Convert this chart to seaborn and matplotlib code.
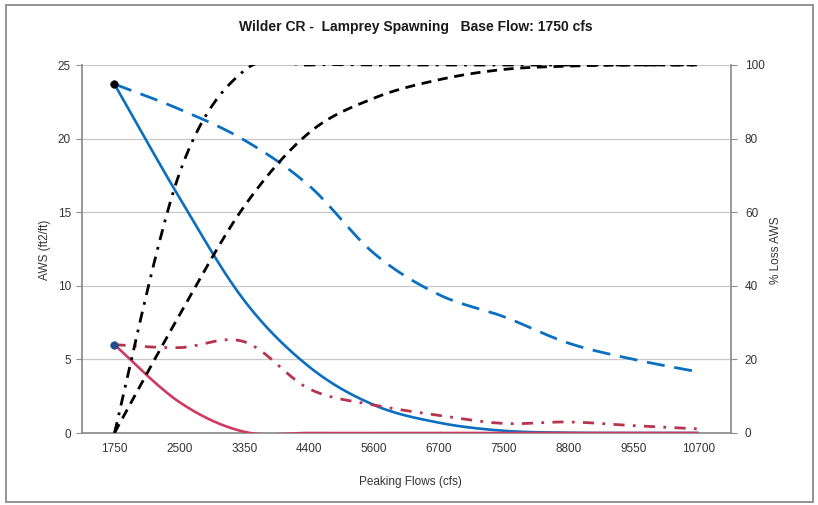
import numpy as np
import pandas as pd
import matplotlib
matplotlib.use("Agg")
import matplotlib.pyplot as plt
from matplotlib.patches import Rectangle
import seaborn as sns

# ---------------- data ----------------
flows = ["1750", "2500", "3350", "4400", "5600", "6700", "7500", "8800", "9550", "10700"]
aws_solid_blue = [23.7, 16.0, 9.0, 4.5, 1.9, 0.7, 0.15, 0.02, 0.0, 0.0]
aws_dash_blue = [23.7, 22.0, 19.9, 16.8, 12.2, 9.4, 7.9, 6.1, 5.0, 4.15]
aws_solid_red = [6.0, 2.1, 0.08, 0.0, 0.0, 0.0, 0.0, 0.0, 0.0, 0.0]
aws_dashdot_red = [6.0, 5.8, 6.2, 3.0, 1.9, 1.2, 0.65, 0.75, 0.5, 0.28]
loss_dashdot_black = [0.0, 70.5, 98.5, 100.0, 100.0, 100.0, 100.0, 100.0, 100.0, 100.0]
loss_dash_black = [0.0, 32.0, 61.6, 81.6, 91.0, 96.0, 98.8, 99.7, 100.0, 100.0]

# ---------------- style ----------------
sns.set_theme(style="white")
plt.rcParams["font.family"] = ["Liberation Sans", "DejaVu Sans"]
TXT = "#333333"
GRID = "#c8c8c8"
SPINE = "#8c8c8c"


def excel_smooth(xs, ys, n=40):
    """Excel-style smoothed line rendering (cubic Bezier through the points)."""
    P = np.column_stack([xs, ys]).astype(float)
    m = len(P)
    out = []
    for i in range(m - 1):
        p0 = P[i - 1] if i > 0 else P[i]
        p1, p2 = P[i], P[i + 1]
        p3 = P[i + 2] if i + 2 < m else P[i + 1]
        c1 = p1 + (p2 - p0) / 6.0
        c2 = p2 - (p3 - p1) / 6.0
        t = np.linspace(0, 1, n, endpoint=(i == m - 2))[:, None]
        seg = ((1 - t) ** 3) * p1 + 3 * ((1 - t) ** 2) * t * c1 + 3 * (1 - t) * t ** 2 * c2 + t ** 3 * p2
        out.append(seg)
    arr = np.vstack(out)
    return arr[:, 0], arr[:, 1]


fig = plt.figure(figsize=(8.18, 5.05), dpi=100)
fig.patch.set_facecolor("white")
ax = fig.add_axes([82 / 818, 1 - 433 / 505, (731 - 82) / 818, (433 - 65) / 505])
ax2 = ax.twinx()

idx = np.arange(len(flows))


def draw(axis, vals, color, lw, dashes=None, z=3):
    sx, sy = excel_smooth(idx, vals)
    df = pd.DataFrame({"x": sx, "y": sy})
    sns.lineplot(data=df, x="x", y="y", ax=axis, color=color, linewidth=lw,
                 sort=False, estimator=None, zorder=z)
    line = axis.lines[-1]
    if dashes is not None:
        line.set_dashes(dashes)
    line.set_solid_capstyle("butt")
    line.set_dash_capstyle("butt")


# left axis series
draw(ax, aws_dash_blue, "#0b6fc0", 2.0, dashes=(6.5, 3.5))
draw(ax, aws_solid_blue, "#0b6fc0", 1.9)
draw(ax, aws_dashdot_red, "#b8334f", 2.0, dashes=(4, 3, 1, 3))
draw(ax, aws_solid_red, "#cf3a62", 1.9)
sns.scatterplot(x=[0], y=[aws_solid_blue[0]], ax=ax, color="black", s=30, zorder=6, edgecolor="black")
sns.scatterplot(x=[0], y=[aws_solid_red[0]], ax=ax, color="#1f4e8c", s=30, zorder=6, edgecolor="#1f4e8c")

# right axis series
draw(ax2, loss_dashdot_black, "black", 2.0, dashes=(4, 2.6, 1, 2.6))
draw(ax2, loss_dash_black, "black", 2.0, dashes=(3.6, 2.4))

# axes limits / ticks
ax.set_xlim(-0.5, len(flows) - 0.5)
ax.set_ylim(0, 25)
ax2.set_ylim(0, 100)
ax.set_xticks(idx)
ax.set_xticklabels(flows)
ax.set_yticks([0, 5, 10, 15, 20, 25])
ax2.set_yticks([0, 20, 40, 60, 80, 100])

ax.grid(axis="y", color=GRID, linewidth=0.9)
ax.grid(axis="x", visible=False)
ax2.grid(False)
ax.set_axisbelow(True)

for a in (ax, ax2):
    a.set_facecolor("none")
    for s in a.spines.values():
        s.set_visible(False)
ax.spines["left"].set_visible(True)
ax.spines["left"].set_color(SPINE)
ax.spines["bottom"].set_visible(True)
ax.spines["bottom"].set_color(SPINE)
ax2.spines["right"].set_visible(True)
ax2.spines["right"].set_color(SPINE)

ax.tick_params(axis="y", which="major", direction="out", length=4, width=0.8, color=SPINE,
               labelsize=8.5, labelcolor=TXT, pad=4, left=True)
ax.tick_params(axis="x", length=0, labelsize=8.5, labelcolor=TXT, pad=7)
ax2.tick_params(axis="y", direction="out", length=4, width=0.8, color=SPINE,
                labelsize=8.5, labelcolor=TXT, pad=6, right=True)

ax.set_xlabel("")
ax.set_ylabel("")
ax2.set_xlabel("")
ax2.set_ylabel("")

fig.text(45 / 818, 1 - 250 / 505, "AWS (ft2/ft)", rotation=90, ha="center", va="center",
         fontsize=8.5, color=TXT)
fig.text(776 / 818, 1 - 250 / 505, "% Loss AWS", rotation=90, ha="center", va="center",
         fontsize=8.5, color=TXT)
fig.text(410 / 818, 1 - 482 / 505, "Peaking Flows (cfs)", ha="center", va="center",
         fontsize=8.5, color=TXT)
fig.text(416 / 818, 1 - 27 / 505, "Wilder CR -  Lamprey Spawning   Base Flow: 1750 cfs",
         ha="center", va="center", fontsize=10, fontweight="bold", color="#1a1a1a")

# chart-area border
fig.patches.append(Rectangle((6 / 818, 3 / 505), 807 / 818, 497 / 505, transform=fig.transFigure,
                             fill=False, edgecolor="#8a8a8a", linewidth=1.3))

fig.savefig("out.png", dpi=100, facecolor="white")
